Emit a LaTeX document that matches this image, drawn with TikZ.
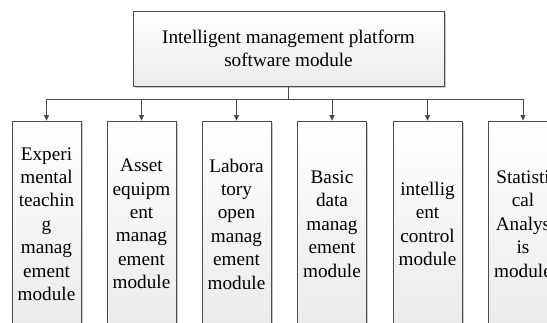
\documentclass[tikz,border=0pt]{standalone}
\usepackage{fontspec}
\setmainfont{Liberation Serif}
\usepackage{tikz}
\usetikzlibrary{arrows.meta, positioning, shadows}

\begin{document}
\begin{tikzpicture}[
  x=1pt, y=1pt,
  font=\fontsize{19.2}{23.4}\selectfont,
  box/.style={draw=black!70, line width=0.7pt, top color=white, bottom color=black!8, align=center, inner sep=2pt,
    drop shadow={shadow xshift=1.8pt, shadow yshift=-1.8pt, fill=black!35, opacity=0.6}},
  topbox/.style={box, minimum width=311pt, minimum height=75pt},
  leaf/.style={box, minimum width=69pt, minimum height=206pt},
  edge/.style={-{Triangle[length=5.5pt, width=5pt]}, draw=black!70, line width=0.8pt}
]
\useasboundingbox (0,0) rectangle (547,322);
\clip (0,0) rectangle (547,322);

\node[topbox] (platform) at (288.5,273.5) {Intelligent management platform\\software module};

\node[leaf] (exper) at (46.5,98) {Experi\\mental\\teachin\\g\\manag\\ement\\module};
\node[leaf] (asset) at (141.5,98) {Asset\\equipm\\ent\\manag\\ement\\module};
\node[leaf] (lab) at (236.5,98) {Labora\\tory\\open\\manag\\ement\\module};
\node[leaf] (basic) at (332,98) {Basic\\data\\manag\\ement\\module};
\node[leaf] (control) at (427.5,98) {intellig\\ent\\control\\module};
\node[leaf] (stat) at (523,98) {Statisti\\cal\\Analys\\is\\module};

\coordinate (bus) at (288.5,223);
\draw[edge] (platform.south) -- (bus) -| (exper.north);
\draw[edge] (platform.south) -- (bus) -| (asset.north);
\draw[edge] (platform.south) -- (bus) -| (lab.north);
\draw[edge] (platform.south) -- (bus) -| (basic.north);
\draw[edge] (platform.south) -- (bus) -| (control.north);
\draw[edge] (platform.south) -- (bus) -| (stat.north);
\end{tikzpicture}
\end{document}
